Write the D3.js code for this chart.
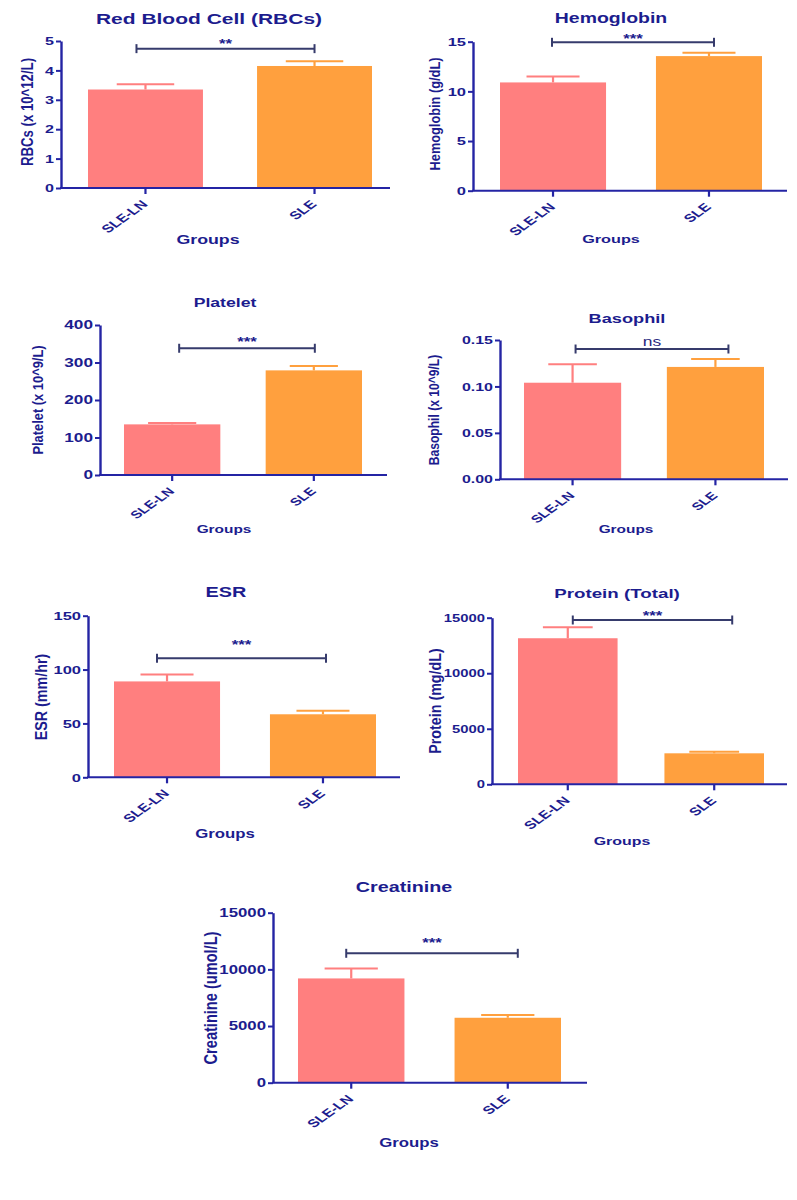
<!DOCTYPE html>
<html>
<head>
<meta charset="utf-8">
<script src="https://cdn.jsdelivr.net/npm/d3@7"></script>
<style>
  html, body { margin: 0; padding: 0; background: #fff; }
  svg { display: block; }
  text { font-family: "Liberation Sans", Arial, sans-serif; }
</style>
</head>
<body>
<svg id="chart" width="797" height="1200"></svg>
<script>
// ---------------- data ----------------
const groups = ["SLE-LN", "SLE"];
const titles = ["Red Blood Cell (RBCs)", "Hemoglobin", "Platelet", "Basophil", "ESR", "Protein (Total)", "Creatinine"];
const yLabels = ["RBCs (x 10^12/L)", "Hemoglobin (g/dL)", "Platelet (x 10^9/L)", "Basophil (x 10^9/L)", "ESR (mm/hr)", "Protein (mg/dL)", "Creatinine (umol/L)"];
const xTitle = "Groups";
const meanSLELN = [3.35, 10.9, 135, 0.104, 89, 13150, 9200];
const meanSLE   = [4.15, 13.55, 279, 0.121, 58.5, 2790, 5730];
const semSLELN  = [0.18, 0.6, 4, 0.020, 6.5, 990, 880];
const semSLE    = [0.16, 0.35, 12, 0.0085, 3.3, 145, 240];
const yMax = [5, 15, 400, 0.15, 150, 15000, 15000];
const yTicks = [
  [0, 1, 2, 3, 4, 5],
  [0, 5, 10, 15],
  [0, 100, 200, 300, 400],
  [0, 0.05, 0.10, 0.15],
  [0, 50, 100, 150],
  [0, 5000, 10000, 15000],
  [0, 5000, 10000, 15000]
];
const tickFormats = ["d", "d", "d", ".2f", "d", "d", "d"];
const sigLabels = ["**", "***", "***", "ns", "***", "***", "***"];
const sigLevels = [4.74, 14.94, 338, 0.1403, 110.5, 14793, 11418];

// ---------------- layout (positions / styles) ----------------
const SX = 1.4;   // horizontal stretch of lettering (titles, ticks, group labels)
const SXY = 1.2;  // stretch of the vertical axis titles
const layout = [
  {ax: 61,  y0: 188,   yT: 41,    xEnd: 390, bars: [88, 372],  bdx: [-9, 0],  starOff: 8,   title: [209, 24, 15],   ylab: [27, 112, 13.2],  grp: [208, 244, 12.7], tick: 11.5, xl: 11.3},
  {ax: 473, y0: 190.7, yT: 41.7,  xEnd: 787, bars: [500, 762], bdx: [-1, 5],  starOff: 6.5, title: [611, 23, 13.9],  ylab: [435, 114, 12.8], grp: [611, 243, 11.6], tick: 11.8, xl: 11.3},
  {ax: 100, y0: 475,   yT: 325,   xEnd: 387, bars: [124, 362], bdx: [7, 1],   starOff: 9,   title: [225, 307, 12.6], ylab: [38, 400, 12.9],  grp: [224, 533, 11],   tick: 12.3, xl: 10.8},
  {ax: 500, y0: 479.3, yT: 340,   xEnd: 788, bars: [524, 764], bdx: [3, 13],  starOff: 7.5, title: [627, 323, 13],   ylab: [434, 410, 12.1], grp: [626, 533, 11],   tick: 11.4, xl: 10.8},
  {ax: 88,  y0: 777.3, yT: 615.7, xEnd: 400, bars: [114, 376], bdx: [-10, 3], starOff: 16.6, title: [226, 597, 14.2], ylab: [41, 697, 14.3], grp: [225, 838, 12],   tick: 11.8, xl: 11.3},
  {ax: 492, y0: 784.3, yT: 617.7, xEnd: 787, bars: [518, 764], bdx: [5, 18],  starOff: 7.3, title: [617, 598, 13.4], ylab: [435, 701, 14.3], grp: [622, 845, 11.4], tick: 10.6, xl: 11.3},
  {ax: 273, y0: 1082.7, yT: 912.7, xEnd: 587, bars: [298, 561], bdx: [-5, 10], starOff: 13.3, title: [404, 892, 14.1], ylab: [211, 998, 14.6], grp: [409, 1147, 12], tick: 12, xl: 11.3}
];
const barColors = ["#FF7F7F", "#FFA03E"];
const textColor = "#1c1c8e";
const axisColor = "#2424a4";
const bracketColor = "#363b6c";

const svg = d3.select("#chart");

function stretchedText(g, x, y, str, opts) {
  const sx = opts.sx === undefined ? SX : opts.sx;
  const t = g.append("text")
    .attr("transform", `translate(${x},${y}) scale(${sx},1)` + (opts.rotate ? ` rotate(${opts.rotate})` : ""))
    .attr("text-anchor", opts.anchor || "middle")
    .attr("font-size", opts.size)
    .attr("font-weight", opts.weight || "bold")
    .attr("fill", opts.fill || textColor)
    .text(str);
  if (opts.dy) t.attr("dy", opts.dy);
  return t;
}

titles.forEach((title, i) => {
  const L = layout[i];
  const g = svg.append("g");
  const y = d3.scaleLinear().domain([0, yMax[i]]).range([L.y0, L.yT]);
  const x = d3.scaleBand().domain(groups).range(L.bars).paddingInner(0.32).paddingOuter(0);
  const means = [meanSLELN[i], meanSLE[i]];
  const sems = [semSLELN[i], semSLE[i]];
  const data = groups.map((gname, j) => ({g: gname, m: means[j], s: sems[j], c: barColors[j]}));

  // bars
  g.selectAll("rect.bar").data(data).enter().append("rect")
    .attr("x", d => x(d.g))
    .attr("width", x.bandwidth())
    .attr("y", d => y(d.m))
    .attr("height", d => y(0) - y(d.m))
    .attr("fill", d => d.c);

  // error bars (upper)
  const eb = g.selectAll("g.eb").data(data).enter().append("g");
  eb.append("line")
    .attr("x1", d => x(d.g) + x.bandwidth() / 2)
    .attr("x2", d => x(d.g) + x.bandwidth() / 2)
    .attr("y1", d => y(d.m))
    .attr("y2", d => y(d.m + d.s))
    .attr("stroke", d => d.c).attr("stroke-width", 2.2);
  eb.append("line")
    .attr("x1", d => x(d.g) + x.bandwidth() * 0.25)
    .attr("x2", d => x(d.g) + x.bandwidth() * 0.75)
    .attr("y1", d => y(d.m + d.s))
    .attr("y2", d => y(d.m + d.s))
    .attr("stroke", d => d.c).attr("stroke-width", 2);

  // y axis
  const fmt = d3.format(tickFormats[i]);
  const yAxis = g.append("g").attr("transform", `translate(${L.ax},0)`)
    .call(d3.axisLeft(y).tickValues(yTicks[i]).tickFormat(fmt).tickSize(5).tickSizeOuter(0));
  yAxis.select(".domain").attr("stroke", axisColor).attr("stroke-width", 2.4);
  yAxis.selectAll(".tick line").attr("stroke", axisColor).attr("stroke-width", 2);
  yAxis.selectAll(".tick text")
    .attr("x", -7 / SX)
    .attr("transform", `scale(${SX},1)`)
    .attr("fill", textColor)
    .attr("font-size", L.tick)
    .attr("font-weight", "bold")
    .attr("font-family", "Liberation Sans, Arial, sans-serif");

  // x axis
  g.append("line")
    .attr("x1", L.ax - 1).attr("x2", L.xEnd)
    .attr("y1", L.y0).attr("y2", L.y0)
    .attr("stroke", axisColor).attr("stroke-width", 2);
  const xAxis = g.append("g").attr("transform", `translate(0,${L.y0})`)
    .call(d3.axisBottom(x).tickSize(6).tickSizeOuter(0));
  xAxis.select(".domain").remove();
  xAxis.selectAll(".tick line").attr("stroke", axisColor).attr("stroke-width", 2.2);
  xAxis.selectAll(".tick text").remove();
  groups.forEach(gname => {
    const cx = x(gname) + x.bandwidth() / 2;
    stretchedText(g, cx + 3, L.y0 + 17, gname, {size: L.xl, anchor: "end", rotate: -45});
  });

  // significance bracket
  const bx0 = x(groups[0]) + x.bandwidth() / 2 + L.bdx[0];
  const bx1 = x(groups[1]) + x.bandwidth() / 2 + L.bdx[1];
  const by = y(sigLevels[i]);
  const br = g.append("g").attr("stroke", bracketColor).attr("stroke-width", 2);
  br.append("line").attr("x1", bx0).attr("x2", bx1).attr("y1", by).attr("y2", by);
  br.append("line").attr("x1", bx0).attr("x2", bx0).attr("y1", by - 4.5).attr("y2", by + 4.5);
  br.append("line").attr("x1", bx1).attr("x2", bx1).attr("y1", by - 4.5).attr("y2", by + 4.5);
  const isNs = sigLabels[i] === "ns";
  const starCenter = by - L.starOff;
  stretchedText(g, (bx0 + bx1) / 2, starCenter + (isNs ? 4 : 7), sigLabels[i],
    {size: isNs ? 12.5 : 12, weight: isNs ? "normal" : "bold", fill: isNs ? "#2a2a80" : textColor});

  // title
  stretchedText(g, L.title[0], L.title[1], title, {size: L.title[2]});
  // y label
  stretchedText(g, L.ylab[0], L.ylab[1], yLabels[i], {size: L.ylab[2], rotate: -90, dy: "0.35em", sx: SXY});
  // x title
  stretchedText(g, L.grp[0], L.grp[1], xTitle, {size: L.grp[2]});
});
</script>
</body>
</html>
